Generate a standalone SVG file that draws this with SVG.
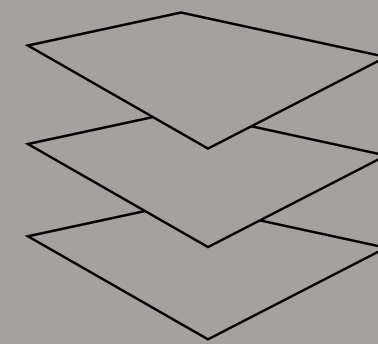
<svg xmlns="http://www.w3.org/2000/svg" width="378" height="344" viewBox="0 0 378 344">
<defs>
<style>
.layer{fill:#a5a19f;stroke:#000;stroke-width:2.5;stroke-linejoin:miter}
</style>
<path id="sheet" d="M28,45.5 L181,12.5 L386,57 L208,148.6 Z"/>
</defs>
<rect width="378" height="344" fill="#a5a19f"/>
<g id="layer3"><use href="#sheet" class="layer" transform="translate(0,190.8)"/></g>
<g id="layer2"><use href="#sheet" class="layer" transform="translate(0,98.5)"/></g>
<g id="layer1"><use href="#sheet" class="layer"/></g>
<g id="connectors"/>
</svg>
